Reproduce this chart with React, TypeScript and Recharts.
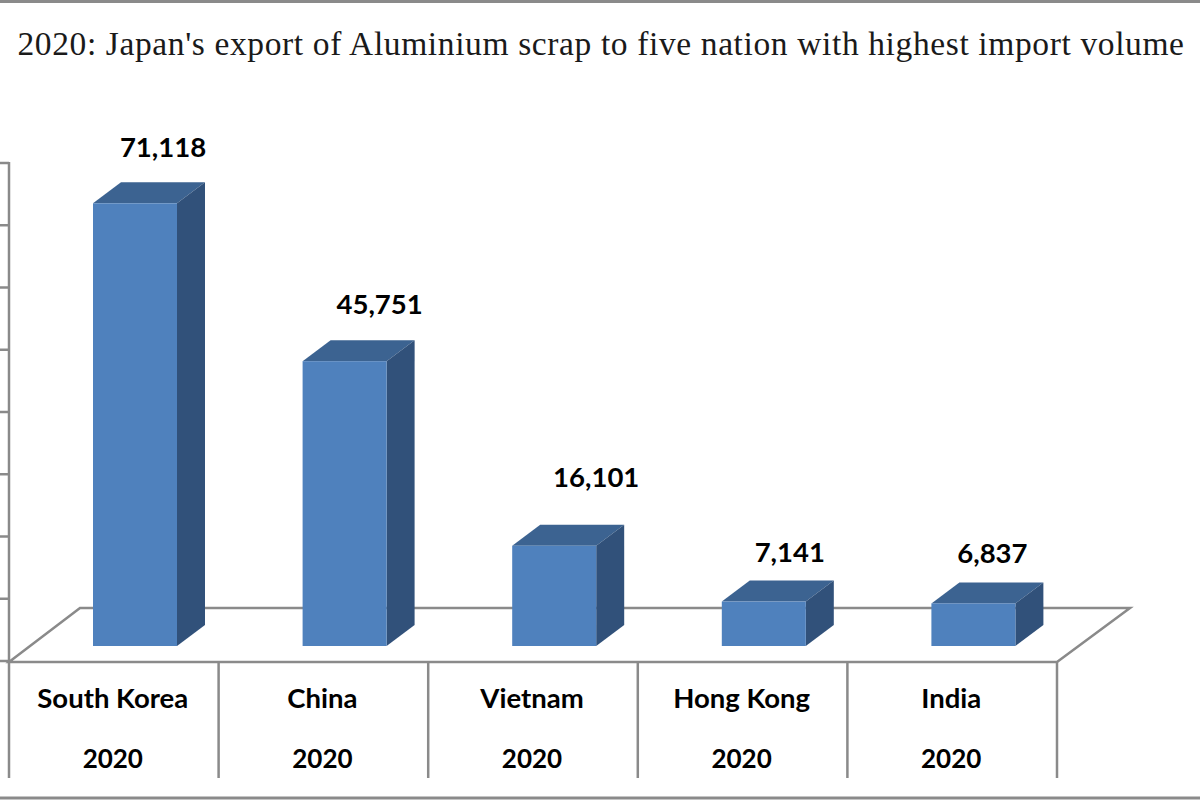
import { Bar, BarChart, LabelList, XAxis, YAxis } from "recharts";

const categories = ["South Korea", "China", "Vietnam", "Hong Kong", "India"];
const years = ["2020", "2020", "2020", "2020", "2020"];
const exportVolume = [71118, 45751, 16101, 7141, 6837];
const yTicks = [0, 10000, 20000, 30000, 40000, 50000, 60000, 70000, 80000];

const chartData = categories.map((name, i) => ({
  name,
  year: years[i],
  value: exportVolume[i],
}));

// the 3D look: how far the back face sits from the front one
const DEPTH_X = 28;
const DEPTH_Y = 21;
// front plane of the axis frame, relative to the plane the bars stand in
const FRAME_DX = -21;
const FRAME_DY = 15;
const BAND = 209.6;
const FRAME_COLOR = "#8a8a8a";
const LABEL_FONT = "Lato, sans-serif";

// data labels were dragged around by hand in the original
const labelNudge = [
  { dx: 28, dy: -46 },
  { dx: 35, dy: -47 },
  { dx: 42, dy: -59 },
  { dx: 26, dy: -40 },
  { dx: 19, dy: -40 },
];

function Bar3D(props: any) {
  const { x, y, width, height } = props;
  const r = x + width;
  const b = y + height;
  return (
    <g>
      <polygon
        points={`${x},${y} ${x + DEPTH_X},${y - DEPTH_Y} ${r + DEPTH_X},${y - DEPTH_Y} ${r},${y}`}
        fill="#3C6391"
      />
      <polygon
        points={`${r},${y} ${r + DEPTH_X},${y - DEPTH_Y} ${r + DEPTH_X},${b - DEPTH_Y} ${r},${b}`}
        fill="#31517A"
      />
      <rect x={x} y={y} width={width} height={height} fill="#4F81BD" />
    </g>
  );
}

function CategoryTick(props: any) {
  const { x, index, payload } = props;
  const cx = x + FRAME_DX;
  const left = cx - BAND / 2;
  return (
    <g>
      <line x1={left} x2={left} y1={662} y2={778} stroke={FRAME_COLOR} strokeWidth={2.5} />
      {index === categories.length - 1 && (
        <line x1={left + BAND} x2={left + BAND} y1={662} y2={778} stroke={FRAME_COLOR} strokeWidth={2.5} />
      )}
      <text x={cx - 1} y={708} textAnchor="middle" fontFamily={LABEL_FONT} fontWeight={700} fontSize={27.5} fill="#000">
        {payload.value}
      </text>
      <text x={cx - 1} y={768} textAnchor="middle" fontFamily={LABEL_FONT} fontWeight={700} fontSize={26} fill="#000">
        {years[index]}
      </text>
    </g>
  );
}

function ValueTick(props: any) {
  const { y } = props;
  return <line x1={0} x2={9} y1={y + FRAME_DY} y2={y + FRAME_DY} stroke={FRAME_COLOR} strokeWidth={2.5} />;
}

function ValueLabel(props: any) {
  const { x, y, width, value, index } = props;
  const nudge = labelNudge[index];
  return (
    <text
      x={x + width / 2 + nudge.dx}
      y={y + nudge.dy}
      textAnchor="middle"
      fontFamily={LABEL_FONT}
      fontWeight={700}
      fontSize={27.5}
      fill="#000"
    >
      {Number(value).toLocaleString("en-US")}
    </text>
  );
}

export default function App() {
  return (
    <div style={{ position: "fixed", left: 0, top: 0, width: 1200, height: 800, background: "#fff" }}>
      <BarChart
        width={1200}
        height={800}
        data={chartData}
        margin={{ top: 148, right: 122, bottom: 153, left: 29 }}
      >
        <rect x={-2} y={1.5} width={1204} height={796.5} fill="none" stroke={FRAME_COLOR} strokeWidth={3} />
        <text
          x={601}
          y={55}
          textAnchor="middle"
          fontFamily="'Liberation Serif', serif"
          fontSize={33.5}
          letterSpacing={0.62}
          fill="#1a1a1a"
        >
          2020: Japan's export of Aluminium scrap to five nation with highest import volume
        </text>
        <polygon
          points="9,662 80,608 1130,608 1057,662"
          fill="none"
          stroke={FRAME_COLOR}
          strokeWidth={2.5}
        />
        <line x1={9} x2={9} y1={162} y2={662} stroke={FRAME_COLOR} strokeWidth={2.5} />
        <YAxis
          width={1}
          domain={[0, 80000]}
          ticks={yTicks}
          interval={0}
          axisLine={false}
          tickLine={false}
          tick={<ValueTick />}
        />
        <XAxis
          dataKey="name"
          height={1}
          interval={0}
          axisLine={false}
          tickLine={false}
          tick={<CategoryTick />}
        />
        <Bar dataKey="value" barSize={84} shape={<Bar3D />} isAnimationActive={false}>
          <LabelList dataKey="value" content={<ValueLabel />} />
        </Bar>
      </BarChart>
    </div>
  );
}
